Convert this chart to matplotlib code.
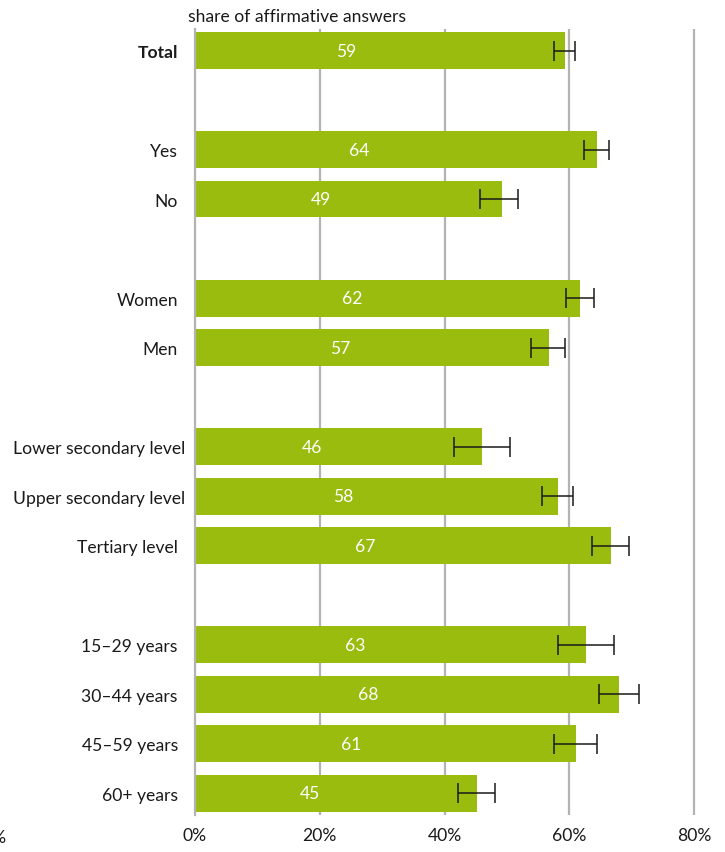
import matplotlib.pyplot as plt
import matplotlib.transforms as mtransforms
from matplotlib.ticker import FuncFormatter

plt.rcParams['font.family'] = ['Lato', 'DejaVu Sans']

# survey groups, top to bottom; None marks an empty spacer row
categories = ['Total', None, 'Yes', 'No', None, 'Women', 'Men', None,
              'Lower secondary level', 'Upper secondary level', 'Tertiary level', None,
              '15\u201329 years', '30\u201344 years', '45\u201359 years', '60+ years']
shares = [59.3, 64.4, 49.2, 61.7, 56.7, 46.0, 58.1, 66.6, 62.6, 67.9, 61.0, 45.2]
ci_low = [57.5, 62.3, 45.7, 59.4, 53.8, 41.5, 55.6, 63.6, 58.1, 64.8, 57.6, 42.2]
ci_high = [60.9, 66.4, 51.7, 63.9, 59.3, 50.5, 60.6, 69.6, 67.1, 71.1, 64.4, 48.1]
x_ticks = [0, 20, 40, 60, 80]

bar_color = '#99bc0f'
grid_color = '#b3b3b3'
fs = 12.6

rows = [i for i, c in enumerate(categories) if c is not None]
names = [c for c in categories if c is not None]
err = [[s - lo for s, lo in zip(shares, ci_low)],
       [hi - s for s, hi in zip(shares, ci_high)]]

fig = plt.figure(figsize=(7.25, 8.53), dpi=100)
ax = fig.add_axes([0.2683, 0.0434, 0.7241, 0.9214])

ax.barh(rows, shares, height=0.745, color=bar_color, zorder=2)
ax.errorbar(shares, rows, xerr=err, fmt='none', ecolor='#1a1a1a',
            elinewidth=1.1, capsize=7.5, capthick=1.1, zorder=3)

for r, v in zip(rows, shares):
    ax.text(v * 0.41, r, f'{v:.0f}', color='white', fontsize=fs,
            ha='center', va='center', zorder=4)

ax.set_xlim(0, 84)
ax.set_ylim(15.44, -0.434)
ax.set_xticks(x_ticks)
ax.xaxis.set_major_formatter(FuncFormatter(lambda v, p: f'{v:.0f}%'))
ax.set_yticks(rows)
ax.set_yticklabels(names)

ax.tick_params(axis='y', length=0, pad=12, labelsize=fs, colors='#1a1a1a')
ax.tick_params(axis='x', length=0, pad=9, labelsize=fs, colors='#1a1a1a')

# the two long education labels sit a little further right
nudge = mtransforms.ScaledTranslation(7 / 100, 0, fig.dpi_scale_trans)
for lab in ax.get_yticklabels():
    if lab.get_text() == 'Total':
        lab.set_fontweight('bold')
    if lab.get_text().endswith('secondary level'):
        lab.set_transform(lab.get_transform() + nudge)

for g in x_ticks[1:]:
    ax.axvline(g, color=grid_color, lw=1.6, zorder=1)

for side in ['top', 'right', 'bottom']:
    ax.spines[side].set_visible(False)
ax.spines['left'].set_color(grid_color)
ax.spines['left'].set_linewidth(1.6)

fig.text(188 / 725, 1 - 17 / 853, 'share of affirmative answers', fontsize=fs,
         ha='left', va='center', color='#1a1a1a')
# tick label from the neighbouring panel, cut by the page edge
fig.text(7 / 725, 1 - 838 / 853, '0%', fontsize=fs, ha='right', va='center',
         color='#1a1a1a')

fig.savefig('out.png', dpi=100)
